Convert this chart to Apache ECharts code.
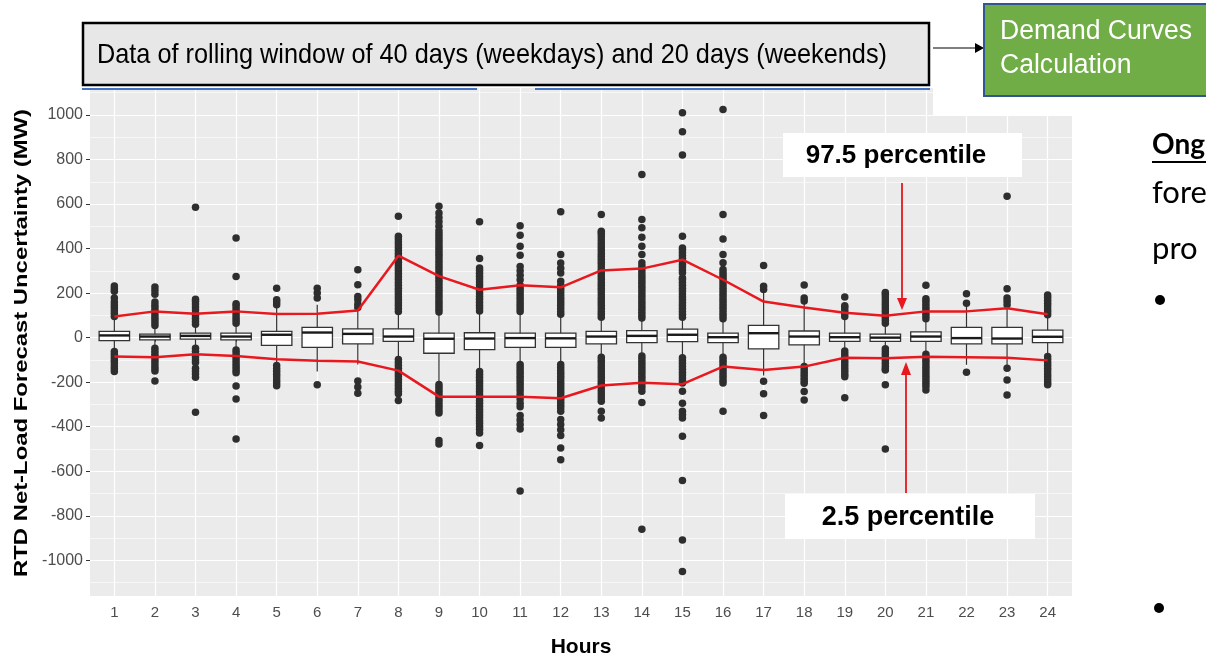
<!DOCTYPE html>
<html>
<head>
<meta charset="utf-8">
<script src="https://cdn.jsdelivr.net/npm/echarts@6/dist/echarts.min.js"></script>
<style>
html,body{margin:0;padding:0;background:#fff;}
#chart{width:1206px;height:660px;}
</style>
</head>
<body>
<div id="chart"></div>
<script>
// ---------- data ----------
const hours = [1,2,3,4,5,6,7,8,9,10,11,12,13,14,15,16,17,18,19,20,21,22,23,24];
const yTickLabels = [-1000,-800,-600,-400,-200,0,200,400,600,800,1000];
const yMinorTicks = [-1100,-900,-700,-500,-300,-100,100,300,500,700,900,1100];

const whiskerLow  = [-60,-45,-45,-50,-120,-152,-120,-95,-205,-150,-120,-120,-85,-80,-85,-85,-170,-125,-55,-45,-70,-122,-125,-85];
const q1          = [-13,-10,-7,-10,-35,-44,-28,-17,-70,-54,-44,-44,-28,-22,-18,-22,-50,-32,-17,-17,-17,-28,-28,-22];
const median      = [10,5,8,5,13,23,17,5,-5,-4,-2,-3,5,8,13,2,20,5,2,0,5,-2,-4,4];
const q3          = [28,16,20,20,28,46,39,39,20,22,20,20,28,32,38,20,55,30,20,16,26,46,46,34];
const whiskerHigh = [88,50,55,60,140,148,125,112,110,115,115,100,90,85,90,80,205,160,90,60,80,150,140,100];

const p975 = [95,118,107,118,106,107,122,368,276,215,235,226,302,310,350,260,162,135,112,98,118,118,132,105];
const p025 = [-85,-88,-74,-82,-97,-104,-107,-148,-265,-265,-265,-272,-215,-202,-209,-130,-145,-130,-90,-92,-86,-88,-90,-102];

const out01 = [95,108,121,134,147,160,178,208,220,232,-62,-75,-88,-101,-114,-127,-140,-152];
const out02 = [55,68,81,94,107,120,133,146,160,195,212,228,-48,-61,-74,-87,-100,-113,-126,-139,-150,-195];
const out03 = [60,73,86,99,112,125,138,151,164,172,585,-48,-61,-74,-87,-100,-112,-137,-150,-163,-178,-335];
const out04 = [65,78,91,104,117,130,143,152,275,448,-55,-68,-81,-94,-107,-120,-133,-146,-158,-217,-275,-455];
const out05 = [148,160,170,222,-125,-138,-151,-164,-177,-190,-203,-216];
const out06 = [178,200,222,-212];
const out07 = [135,150,170,185,238,305,-195,-222,-250];
const out08 = [118,131,144,157,170,183,196,209,222,235,248,261,274,287,300,313,326,339,352,365,378,391,404,417,430,443,455,545,-98,-111,-124,-137,-150,-163,-176,-189,-202,-215,-228,-241,-252,-282];
const out09 = [115,128,141,154,167,180,193,206,219,232,245,258,271,284,297,310,323,336,349,362,375,388,401,414,427,440,453,466,480,500,520,540,560,590,-210,-223,-236,-249,-262,-275,-288,-301,-314,-327,-338,-462,-478];
const out10 = [120,133,146,159,172,185,198,211,224,237,250,263,276,289,302,313,355,520,-152,-165,-178,-191,-204,-217,-230,-243,-256,-269,-282,-295,-308,-321,-334,-347,-360,-373,-386,-399,-412,-428,-484];
const out11 = [118,131,144,157,170,183,196,209,222,235,260,280,300,320,370,410,460,503,-121,-134,-147,-160,-173,-186,-199,-212,-225,-238,-255,-275,-295,-310,-350,-370,-390,-410,-688];
const out12 = [105,118,131,144,157,170,183,196,209,222,235,253,290,312,335,373,565,-121,-134,-147,-160,-173,-186,-199,-212,-225,-238,-251,-264,-277,-290,-303,-316,-331,-368,-390,-413,-439,-496,-548];
const out13 = [92,105,118,131,144,157,170,183,196,209,222,235,248,261,274,287,300,313,326,339,352,365,378,391,404,417,430,443,456,469,478,553,-88,-101,-114,-127,-140,-153,-166,-179,-192,-205,-218,-231,-244,-257,-271,-286,-331,-361];
const out14 = [88,101,114,127,140,153,166,179,192,205,218,231,244,257,270,283,296,309,322,336,373,410,451,493,530,733,-82,-95,-108,-121,-134,-147,-160,-173,-186,-199,-212,-225,-241,-291,-860];
const out15 = [92,105,118,131,144,157,170,183,196,209,222,235,248,261,268,291,304,317,330,343,356,369,382,395,403,455,820,924,1010,-90,-103,-116,-129,-142,-155,-168,-181,-194,-204,-241,-294,-331,-346,-361,-443,-641,-908,-1050];
const out16 = [85,98,111,124,137,150,163,176,189,202,215,228,241,254,267,280,293,306,336,373,443,553,1025,-88,-101,-114,-127,-140,-153,-166,-179,-192,-204,-331];
const out17 = [216,231,324,-196,-252,-350];
const out18 = [165,178,237,-130,-143,-156,-169,-182,-195,-205,-242,-280];
const out19 = [95,108,121,134,143,182,-60,-73,-86,-99,-112,-125,-138,-151,-164,-175,-270];
const out20 = [65,78,91,104,117,130,143,156,169,182,195,203,-50,-63,-76,-89,-102,-115,-128,-141,-145,-212,-500];
const out21 = [85,98,111,124,137,150,163,175,235,-75,-88,-101,-114,-127,-140,-153,-166,-179,-192,-205,-218,-235];
const out22 = [155,197,-155];
const out23 = [148,163,178,220,635,-137,-190,-257];
const out24 = [103,116,129,142,155,168,181,192,-85,-98,-111,-124,-137,-150,-163,-176,-189,-202,-212];
const outlierValues = [out01,out02,out03,out04,out05,out06,out07,out08,out09,out10,out11,out12,out13,out14,out15,out16,out17,out18,out19,out20,out21,out22,out23,out24];

// ---------- build ----------
const boxData = hours.map((h,i)=>[h, whiskerLow[i], q1[i], median[i], q3[i], whiskerHigh[i]]);
const outlierData = [];
hours.forEach((h,i)=>outlierValues[i].forEach(v=>outlierData.push([h,v])));
const upperLine = hours.map((h,i)=>[h,p975[i]]);
const lowerLine = hours.map((h,i)=>[h,p025[i]]);

const arial = '"Liberation Sans",Arial,sans-serif';
const measureCtx = document.createElement('canvas').getContext('2d');
function textWidth(str, size, weight){
  measureCtx.font = (weight||'normal') + ' ' + size + 'px "Liberation Sans"';
  return measureCtx.measureText(str).width;
}
const headerText = 'Data of rolling window of 40 days (weekdays) and 20 days (weekends)';
const headerScale = 790 / textWidth(headerText, 28);
const greenScale = 192 / textWidth('Demand Curves', 27);
const yTitle = 'RTD Net-Load Forecast Uncertainty (MW)';
const yTitleScale = 468 / textWidth(yTitle, 19, 'bold');

const chart = echarts.init(document.getElementById('chart'), null, {renderer:'canvas'});

const option = {
  backgroundColor:'#ffffff',
  animation:false,
  grid:{left:90,right:134,top:88,bottom:64,show:true,backgroundColor:'#ebebeb',borderWidth:0,outerBoundsMode:'none'},
  xAxis:{
    type:'value',min:0.4,max:24.6,
    name:'Hours',nameLocation:'middle',nameGap:41,
    nameTextStyle:{fontFamily:arial,fontWeight:'bold',fontSize:21,color:'#000'},
    axisLine:{show:false},
    axisTick:{show:true,length:4,customValues:hours,lineStyle:{color:'#333',width:1}},
    axisLabel:{customValues:hours,margin:9,fontFamily:arial,fontSize:15,color:'#4d4d4d',formatter:v=>String(v)},
    splitLine:{show:true,lineStyle:{color:'#ffffff',width:1.2}}
  },
  yAxis:[{
    type:'value',min:-1160,max:1121,
    axisLine:{show:false},
    axisTick:{show:true,length:4,customValues:yTickLabels,lineStyle:{color:'#333',width:1}},
    axisLabel:{customValues:yTickLabels,margin:7,fontFamily:arial,fontSize:16,color:'#4d4d4d',formatter:v=>String(v)},
    splitLine:{show:true,lineStyle:{color:'#ffffff',width:1.2}}
  },{
    type:'value',min:-1160,max:1121,position:'left',
    axisLine:{show:false},
    axisTick:{show:false,customValues:yMinorTicks},
    axisLabel:{show:false,customValues:yMinorTicks},
    splitLine:{show:true,lineStyle:{color:'#ffffff',width:0.6}}
  }],
  series:[
    {
      type:'custom',z:2,
      data:boxData,
      encode:{x:0,y:[1,2,3,4,5]},
      renderItem:function(params,api){
        const x=api.value(0);
        const lo=api.coord([x,api.value(1)]);
        const b1=api.coord([x,api.value(2)]);
        const md=api.coord([x,api.value(3)]);
        const b3=api.coord([x,api.value(4)]);
        const hi=api.coord([x,api.value(5)]);
        const w=api.size([0.75,0])[0];
        return {type:'group',children:[
          {type:'line',shape:{x1:lo[0],y1:lo[1],x2:hi[0],y2:hi[1]},style:{stroke:'#333',lineWidth:1.2}},
          {type:'rect',shape:{x:b3[0]-w/2,y:b3[1],width:w,height:b1[1]-b3[1]},style:{fill:'#ffffff',stroke:'#333',lineWidth:1.3}},
          {type:'line',shape:{x1:md[0]-w/2,y1:md[1],x2:md[0]+w/2,y2:md[1]},style:{stroke:'#1a1a1a',lineWidth:2.4}}
        ]};
      }
    },
    {
      type:'scatter',z:3,data:outlierData,symbol:'circle',symbolSize:7.5,
      itemStyle:{color:'#2e2e2e',opacity:1}
    },
    {
      type:'line',z:4,data:upperLine,showSymbol:false,symbol:'none',
      lineStyle:{color:'#e8181e',width:2.5}
    },
    {
      type:'line',z:4,data:lowerLine,showSymbol:false,symbol:'none',
      lineStyle:{color:'#e8181e',width:2.5}
    }
  ],
  graphic:[
    // white patch at top right of panel
    {type:'rect',z:1,shape:{x:933,y:86,width:145,height:29},style:{fill:'#ffffff'}},
    // y axis title (stretched like the reference image)
    {type:'text',z:51,x:22,y:343,rotation:Math.PI/2,scaleX:yTitleScale,originX:0,originY:0,
      style:{text:yTitle,x:0,y:0,fontFamily:arial,fontWeight:'bold',fontSize:19,fill:'#000',textAlign:'center',align:'center',textVerticalAlign:'middle',verticalAlign:'middle'}},
    // header box
    {type:'rect',z:50,shape:{x:83,y:23,width:846,height:62},style:{fill:'#e7e7e7',stroke:'#000',lineWidth:2.5}},
    {type:'text',z:51,x:97,y:55,scaleX:headerScale,originX:0,originY:0,
      style:{text:headerText,x:0,y:0,fontFamily:arial,fontSize:28,fill:'#000',textAlign:'left',align:'left',textVerticalAlign:'middle',verticalAlign:'middle'}},
    {type:'line',z:50,shape:{x1:82,y1:89,x2:477,y2:89},style:{stroke:'#4472c4',lineWidth:2}},
    {type:'line',z:50,shape:{x1:535,y1:89,x2:930,y2:89},style:{stroke:'#4472c4',lineWidth:2}},
    // arrow to green box
    {type:'line',z:50,shape:{x1:933,y1:48,x2:976,y2:48},style:{stroke:'#555',lineWidth:1.5}},
    {type:'polygon',z:50,shape:{points:[[975,43],[984,48],[975,53]]},style:{fill:'#000'}},
    // green box
    {type:'rect',z:50,shape:{x:984,y:4,width:240,height:92},style:{fill:'#70ad47',stroke:'#2f5597',lineWidth:2}},
    {type:'text',z:51,x:1000,y:32,scaleX:greenScale,originX:0,originY:0,
      style:{text:'Demand Curves',x:0,y:0,fontFamily:arial,fontSize:27,fill:'#fff',textAlign:'left',align:'left',textVerticalAlign:'middle',verticalAlign:'middle'}},
    {type:'text',z:51,x:1000,y:66,scaleX:greenScale,originX:0,originY:0,
      style:{text:'Calculation',x:0,y:0,fontFamily:arial,fontSize:27,fill:'#fff',textAlign:'left',align:'left',textVerticalAlign:'middle',verticalAlign:'middle'}},
    // 97.5 label
    {type:'rect',z:50,shape:{x:783,y:133,width:239,height:44},style:{fill:'#ffffff'}},
    {type:'text',z:51,style:{text:'97.5 percentile',x:896,y:156,fontFamily:arial,fontWeight:'bold',fontSize:26,fill:'#000',textAlign:'center',align:'center',textVerticalAlign:'middle',verticalAlign:'middle'}},
    {type:'line',z:50,shape:{x1:902,y1:183,x2:902,y2:300},style:{stroke:'#e8181e',lineWidth:1.8}},
    {type:'polygon',z:50,shape:{points:[[897,298],[907,298],[902,310]]},style:{fill:'#e8181e'}},
    // 2.5 label
    {type:'rect',z:50,shape:{x:785,y:494,width:250,height:45},style:{fill:'#ffffff'}},
    {type:'text',z:51,style:{text:'2.5 percentile',x:908,y:518,fontFamily:arial,fontWeight:'bold',fontSize:27,fill:'#000',textAlign:'center',align:'center',textVerticalAlign:'middle',verticalAlign:'middle'}},
    {type:'line',z:50,shape:{x1:906,y1:493,x2:906,y2:372},style:{stroke:'#e8181e',lineWidth:1.8}},
    {type:'polygon',z:50,shape:{points:[[901,375],[911,375],[906,362]]},style:{fill:'#e8181e'}},
    // right side slide text
    {type:'text',z:51,style:{text:'Ong',x:1152,y:145,fontFamily:'Lato,"Open Sans",sans-serif',fontWeight:'bold',fontSize:28,fill:'#000',textAlign:'left',align:'left',textVerticalAlign:'middle',verticalAlign:'middle'}},
    {type:'line',z:51,shape:{x1:1152,y1:162,x2:1206,y2:162},style:{stroke:'#000',lineWidth:2}},
    {type:'text',z:51,style:{text:'fore',x:1152,y:208,fontFamily:'Lato,"Open Sans",sans-serif',fontSize:31,fill:'#000',textAlign:'left',align:'left',textVerticalAlign:'bottom',verticalAlign:'bottom'}},
    {type:'text',z:51,style:{text:'pro',x:1152,y:264,fontFamily:'Lato,"Open Sans",sans-serif',fontSize:31,fill:'#000',textAlign:'left',align:'left',textVerticalAlign:'bottom',verticalAlign:'bottom'}},
    {type:'circle',z:51,shape:{cx:1160,cy:300,r:5},style:{fill:'#000'}},
    {type:'circle',z:51,shape:{cx:1159,cy:608,r:5},style:{fill:'#000'}}
  ]
};
chart.setOption(option);
</script>
</body>
</html>
